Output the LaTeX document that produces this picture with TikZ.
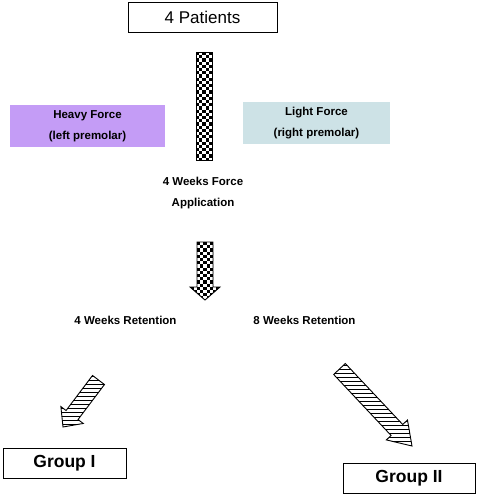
\documentclass[tikz,border=0pt]{standalone}
\usepackage{fontspec}
\setmainfont{Liberation Sans}
\definecolor{heavyc}{HTML}{C49CF6}
\definecolor{lightc}{HTML}{CDE2E6}
\newcommand{\hatcharrow}[7]{%
 \pgfmathsetmacro\dxA{#3-#1}\pgfmathsetmacro\dyA{-(#4-#2)}%
 \pgfmathsetmacro\angA{atan2(\dyA,\dxA)}\pgfmathsetmacro\lenA{veclen(\dxA,\dyA)}%
 \begin{scope}[shift={(#1,#2)},rotate=\angA]
  \begin{scope}
   \clip (0,-#5) -- ({\lenA-#7},-#5) -- ({\lenA-#7},-#6) -- (\lenA,0) -- ({\lenA-#7},#6) -- ({\lenA-#7},#5) -- (0,#5) -- cycle;
   \begin{scope}[rotate=-\angA]
     \foreach \k in {-35,...,35} \draw[line width=0.9pt] (-140,\k*4) -- (140,\k*4);
   \end{scope}
  \end{scope}
  \draw[line width=0.9pt, line join=miter] (0,-#5) -- ({\lenA-#7},-#5) -- ({\lenA-#7},-#6) -- (\lenA,0) -- ({\lenA-#7},#6) -- ({\lenA-#7},#5) -- (0,#5) -- cycle;
 \end{scope}}
\begin{document}
\begin{tikzpicture}[x=1pt,y=-1pt,
  box/.style={draw, line width=0.8pt, inner sep=0pt, align=center},
  lab/.style={font=\fontsize{11.5}{21}\selectfont\bfseries, align=center, inner sep=0pt},
  grp/.style={box, font=\fontsize{17.5}{20}\selectfont\bfseries}]
\useasboundingbox (0,0) rectangle (478,495);
% boxes
\node[box, minimum width=149pt, minimum height=30pt, font=\fontsize{17}{20}\selectfont] (pat) at (202.5,17) {4 Patients};
\node[lab, fill=heavyc, minimum width=155pt, minimum height=42pt] (heavy) at (87.5,126) {Heavy Force\\(left premolar)};
\node[lab, fill=lightc, minimum width=147pt, minimum height=42pt] (light) at (316.5,123) {Light Force\\(right premolar)};
\node[lab] (app) at (203,193) {4 Weeks Force\\Application};
\node[lab] (r4) at (125.5,320) {4 Weeks Retention};
\node[lab] (r8) at (304.5,320) {8 Weeks Retention};
\node[grp, minimum width=123pt, minimum height=30pt] (g1) at (64.5,463) {Group I};
\node[grp, minimum width=132pt, minimum height=30pt] (g2) at (409,478) {Group II};
% checkered bar
\begin{scope}
 \clip (196,52) rectangle (212,160);
 \fill[white] (196,52) rectangle (212,160);
 \foreach \j in {0,...,34}{\foreach \i [evaluate=\i as \m using {int(mod(\i+\j,2))}] in {0,...,4}{%
   \ifnum\m=0 \fill[black] ({196+3.2*\i},{52+3.2*\j}) rectangle ++(3.2,3.2);\fi}}
\end{scope}
\draw[line width=0.9pt] (196,52) rectangle (212,160);
% checkered down arrow
\begin{scope}
 \clip (197,242) -- (213,242) -- (213,287) -- (220,287) -- (205,300) -- (190,287) -- (197,287) -- cycle;
 \fill[white] (188,240) rectangle (222,302);
 \foreach \j in {0,...,18}{\foreach \i [evaluate=\i as \m using {int(mod(\i+\j,2))}] in {-3,...,7}{%
   \ifnum\m=0 \fill[black] ({197+3.2*\i},{242+3.2*\j}) rectangle ++(3.2,3.2);\fi}}
\end{scope}
\draw[line width=0.9pt, line join=miter] (197,242) -- (213,242) -- (213,287) -- (220,287) -- (205,300) -- (190,287) -- (197,287) -- cycle;
% hatched arrows
\hatcharrow{98.5}{380}{63}{427}{7.5}{14}{15}
\hatcharrow{339.5}{369}{412}{446}{8}{14.5}{22}
\end{tikzpicture}
\end{document}
